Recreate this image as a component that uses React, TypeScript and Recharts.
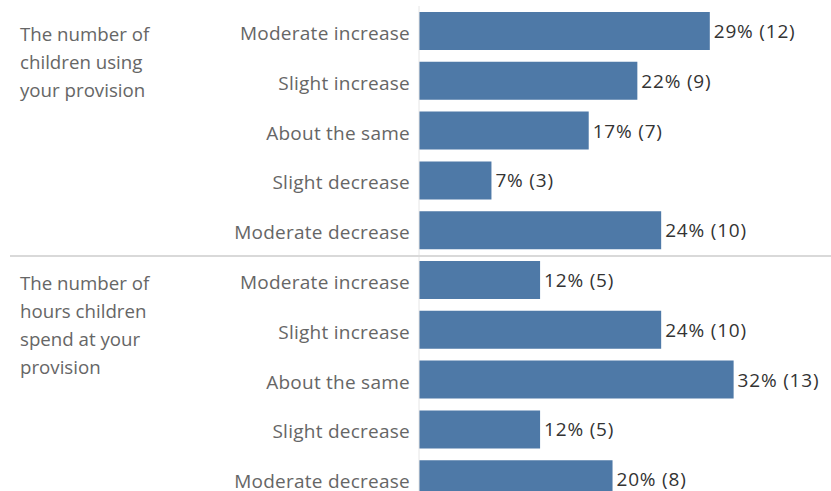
import React from "react";
import { BarChart, Bar, XAxis, YAxis, LabelList } from "recharts";

const groups = [
  ["The number of", "children using", "your provision"],
  ["The number of", "hours children", "spend at your", "provision"],
];
const categories = [
  "Moderate increase",
  "Slight increase",
  "About the same",
  "Slight decrease",
  "Moderate decrease",
];
const childrenPct = [29.3, 22.0, 17.1, 7.3, 24.4];
const childrenCount = [12, 9, 7, 3, 10];
const hoursPct = [12.2, 24.4, 31.7, 12.2, 19.5];
const hoursCount = [5, 10, 13, 5, 8];

const data = [
  ...categories.map((c, i) => ({ key: `a${i}`, cat: c, group: 0, pct: childrenPct[i], count: childrenCount[i] })),
  ...categories.map((c, i) => ({ key: `b${i}`, cat: c, group: 1, pct: hoursPct[i], count: hoursCount[i] })),
];

const FONT = "'Open Sans', sans-serif";

const Tick = (props: any) => {
  const { y, payload, index } = props;
  const row = data[payload.index ?? index] || data.find((d) => d.key === payload.value);
  const showGroup = row && (row.key === "a0" || row.key === "b0");
  return (
    <g>
      <text x={410} y={y + 9} textAnchor="end" fontSize={19} letterSpacing={0.25} fill="#666" fontFamily={FONT}>
        {row ? row.cat : ""}
      </text>
      {showGroup &&
        groups[row.group].map((l, i) => (
          <text key={i} x={20} y={y + 10 + i * 28} fontSize={18.7} fill="#666" fontFamily={FONT}>
            {l}
          </text>
        ))}
    </g>
  );
};

export default function App() {
  return (
    <div style={{ position: "absolute", left: 0, top: 0 }}>
      <BarChart
        width={831}
        height={508}
        data={data}
        layout="vertical"
        margin={{ top: 6, right: 15, bottom: 4, left: 0 }}
      >
        <XAxis type="number" domain={[0, 40]} hide />
        <YAxis
          type="category"
          dataKey="key"
          width={419}
          axisLine={{ stroke: "#e6e6e6" }}
          tickLine={false}
          tick={<Tick />}
          interval={0}
        />
        <Bar dataKey="pct" fill="#4e79a7" barSize={38} isAnimationActive={false}>
          <LabelList
            dataKey="pct"
            position="right"
            content={(p: any) => {
              const row = data[p.index];
              return (
                <text
                  x={p.x + p.width + 4}
                  y={p.y + p.height / 2 + 7}
                  fontSize={19}
                  letterSpacing={0.8}
                  fill="#333"
                  fontFamily={FONT}
                >
                  {`${Math.round(row.pct)}% (${row.count})`}
                </text>
              );
            }}
          />
        </Bar>
      </BarChart>
      <svg width={831} height={4} style={{ position: "absolute", left: 0, top: 254 }}>
        <line x1={10} x2={831} y1={2} y2={2} stroke="#d9d9d9" strokeWidth={2} />
      </svg>
    </div>
  );
}
